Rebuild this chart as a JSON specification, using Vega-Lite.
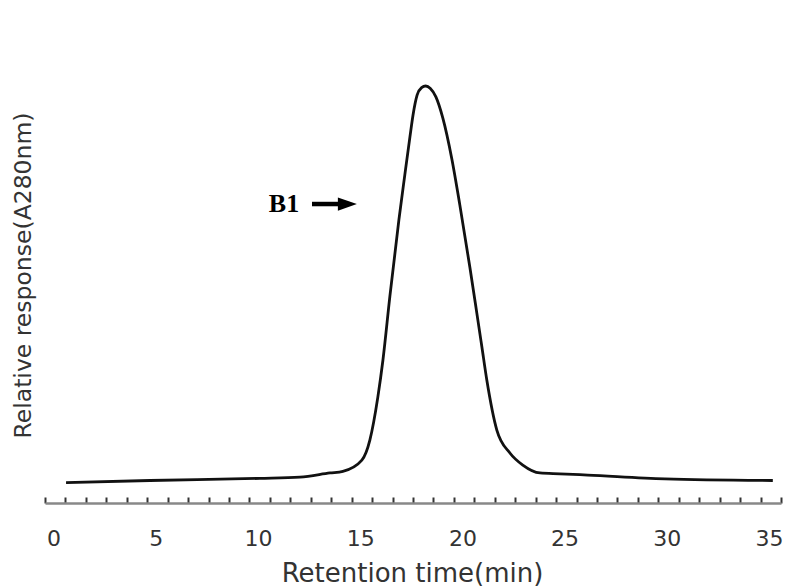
{
  "$schema": "https://vega.github.io/schema/vega-lite/v6.json",
  "width": 736,
  "height": 443,
  "autosize": "none",
  "padding": {"left": 45, "top": 60, "right": 7, "bottom": 83},
  "background": "white",
  "config": {"view": {"stroke": null}},
  "layer": [
    {
      "data": {"values": [
        {"time": 1.03, "response": 4.9},
        {"time": 5.13, "response": 5.4},
        {"time": 10.51, "response": 5.9},
        {"time": 12.47, "response": 6.2},
        {"time": 13.94, "response": 7.2},
        {"time": 14.57, "response": 7.6},
        {"time": 15.5, "response": 10.3},
        {"time": 15.89, "response": 15.1},
        {"time": 16.28, "response": 25.4},
        {"time": 16.53, "response": 34.3},
        {"time": 16.87, "response": 49.6},
        {"time": 17.31, "response": 67.9},
        {"time": 17.6, "response": 78.7},
        {"time": 17.85, "response": 87.8},
        {"time": 18.0, "response": 93.0},
        {"time": 18.2, "response": 97.8},
        {"time": 18.42, "response": 99.6},
        {"time": 18.62, "response": 100},
        {"time": 18.85, "response": 99.4},
        {"time": 19.12, "response": 97.4},
        {"time": 19.46, "response": 92.3},
        {"time": 19.9, "response": 82.5},
        {"time": 20.29, "response": 71.5},
        {"time": 20.78, "response": 56.6},
        {"time": 21.12, "response": 45.6},
        {"time": 21.37, "response": 37.4},
        {"time": 21.61, "response": 29.5},
        {"time": 22.1, "response": 17.5},
        {"time": 22.74, "response": 12.0},
        {"time": 23.37, "response": 9.1},
        {"time": 24.21, "response": 7.2},
        {"time": 25.18, "response": 7.0},
        {"time": 26.55, "response": 6.7},
        {"time": 30.32, "response": 5.8},
        {"time": 35.6, "response": 5.4}
      ]},
      "mark": {"type": "line", "color": "#111", "strokeWidth": 2.8, "interpolate": "monotone"},
      "encoding": {
        "x": {
          "field": "time", "type": "quantitative",
          "scale": {"domain": [0, 36], "nice": false, "zero": false},
          "axis": {
            "title": "Retention time(min)",
            "values": [0,1,2,3,4,5,6,7,8,9,10,11,12,13,14,15,16,17,18,19,20,21,22,23,24,25,26,27,28,29,30,31,32,33,34,35,36],
            "tickCount": 40,
            "labelExpr": "datum.value % 5 === 0 ? datum.label : ''",
            "labelOffset": 8.5,
            "labelFont": "DejaVu Sans",
            "labelFontSize": 22,
            "labelColor": "#333",
            "labelBaseline": "middle",
            "labelPadding": 41,
            "labelFlush": false,
            "labelOverlap": false,
            "grid": false,
            "domainColor": "#888",
            "domainWidth": 2.5,
            "tickColor": "#333",
            "tickWidth": 2,
            "tickSize": -6,
            "titleFont": "DejaVu Sans",
            "titleFontSize": 26,
            "titleFontWeight": "normal",
            "titleColor": "#333",
            "titleX": 367,
            "titleY": 70,
            "titleAlign": "center",
            "titleBaseline": "middle"
          }
        },
        "y": {
          "field": "response", "type": "quantitative",
          "scale": {"domain": [0, 106.24], "nice": false},
          "axis": {
            "title": "Relative response(A280nm)",
            "domain": false,
            "ticks": false,
            "labels": false,
            "grid": false,
            "titleFont": "DejaVu Sans",
            "titleFontSize": 23.5,
            "titleFontWeight": "normal",
            "titleColor": "#333",
            "titleAngle": -90,
            "titleX": -22,
            "titleY": 215,
            "titleAlign": "center",
            "titleBaseline": "middle"
          }
        }
      }
    },
    {
      "data": {"values": [
        {"time": 13.06, "response": 71.7},
        {"time": 14.43, "response": 71.7}
      ]},
      "mark": {"type": "line", "color": "#000", "strokeWidth": 4.5, "strokeCap": "butt"},
      "encoding": {
        "x": {"field": "time", "type": "quantitative"},
        "y": {"field": "response", "type": "quantitative"}
      }
    },
    {
      "data": {"values": [
        {"time": 14.79, "response": 71.7}
      ]},
      "mark": {"type": "point", "shape": "M-1,-0.7L1,0L-1,0.7Z", "size": 361, "filled": true, "color": "#000", "opacity": 1, "strokeWidth": 0},
      "encoding": {
        "x": {"field": "time", "type": "quantitative"},
        "y": {"field": "response", "type": "quantitative"}
      }
    },
    {
      "data": {"values": [
        {"time": 11.69, "response": 71.7, "label": "B1"}
      ]},
      "mark": {"type": "text", "font": "Liberation Serif", "fontWeight": "bold", "fontSize": 26, "color": "#000", "align": "center", "baseline": "middle"},
      "encoding": {
        "x": {"field": "time", "type": "quantitative"},
        "y": {"field": "response", "type": "quantitative"},
        "text": {"field": "label"}
      }
    }
  ]
}
